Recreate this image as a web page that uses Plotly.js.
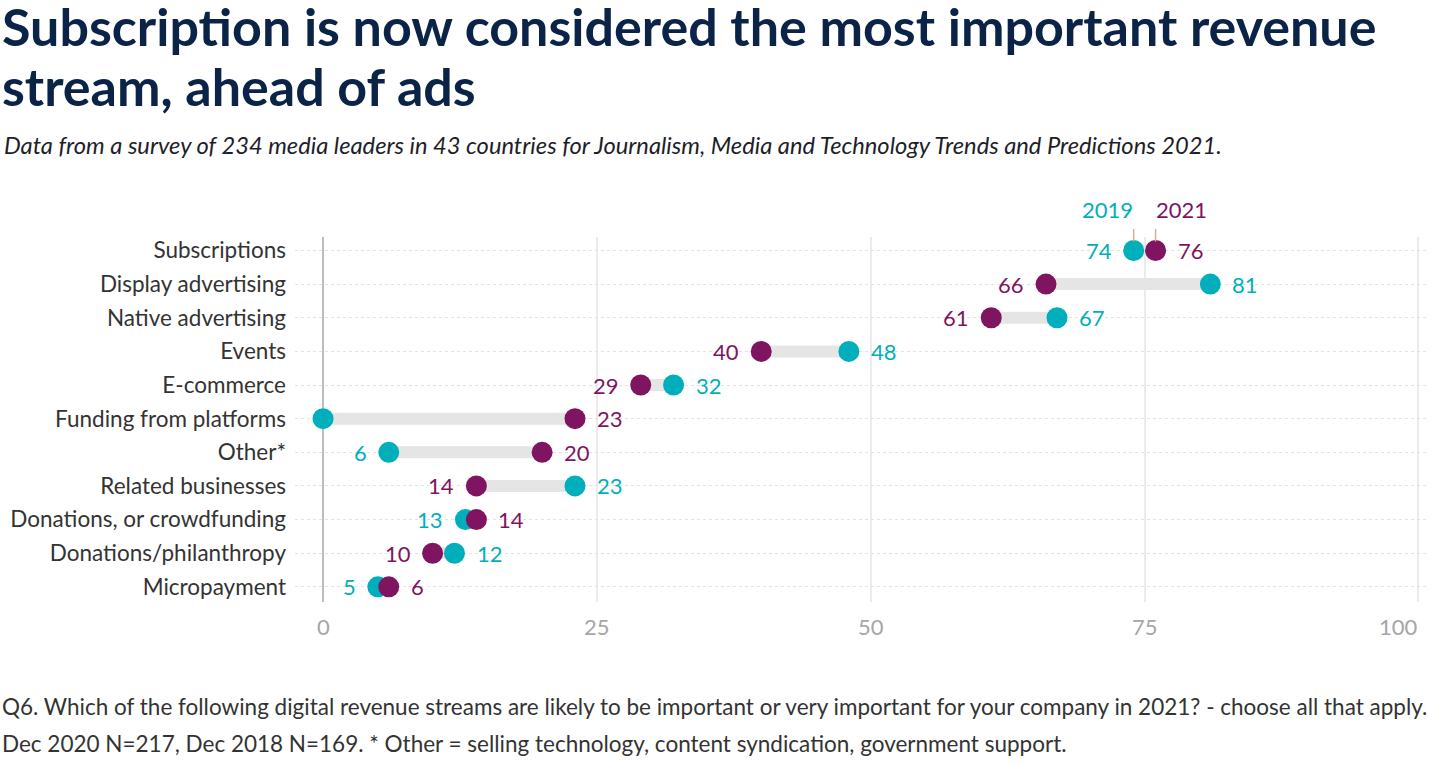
<!DOCTYPE html>
<html>
<head>
<meta charset="utf-8">
<script src="https://cdn.plot.ly/plotly-3.0.1.min.js"></script>
<style>
html,body{margin:0;padding:0;background:#fff;}
#chart{width:1446px;height:764px;}
</style>
</head>
<body>
<div id="chart"></div>
<script>
// ---- data ----
const categories = ["Subscriptions","Display advertising","Native advertising","Events","E-commerce","Funding from platforms","Other*","Related businesses","Donations, or crowdfunding","Donations/philanthropy","Micropayment"];
const values2019 = [74, 81, 67, 48, 32, 0, 6, 23, 13, 12, 5];
const values2021 = [76, 66, 61, 40, 29, 23, 20, 14, 14, 10, 6];
const xTicks = [0, 25, 50, 75, 100];
const seriesNames = ["2019", "2021"];

// ---- style ----
const TEAL = "#00AFBB";
const PURPLE = "#7F1561";
const FONT = "Lato, 'Open Sans', sans-serif";

// pixel helpers for layout positioning
const PL = 295, PR = 1429, PT = 237, PB = 602;
const W = 1446, H = 764;
const pxX = p => (p - PL) / (PR - PL);
const pxY = p => (PB - p) / (PB - PT);
const XMIN = -2.56, XMAX = 100.96;

const traces = [];
// connecting bars
categories.forEach((c, i) => {
  traces.push({
    type: "scatter", mode: "lines",
    x: [values2019[i], values2021[i]], y: [c, c],
    line: {color: "#e5e5e5", width: 12},
    hoverinfo: "skip", showlegend: false
  });
});
traces.push({
  type: "scatter", mode: "markers", name: seriesNames[0],
  x: values2019, y: categories,
  marker: {color: TEAL, size: 21}, showlegend: false
});
traces.push({
  type: "scatter", mode: "markers", name: seriesNames[1],
  x: values2021, y: categories,
  marker: {color: PURPLE, size: 21}, showlegend: false
});

const annotations = [];
categories.forEach((c, i) => {
  const a = values2019[i], b = values2021[i];
  const aLeft = a <= b;
  if (a !== 0) {
    annotations.push({x: a, y: c, xref: "x", yref: "y", text: String(a), showarrow: false,
      xanchor: aLeft ? "right" : "left", xshift: aLeft ? -20 : 20,
      font: {family: FONT, size: 22, color: TEAL}});
  }
  annotations.push({x: b, y: c, xref: "x", yref: "y", text: String(b), showarrow: false,
    xanchor: aLeft ? "left" : "right", xshift: aLeft ? 20 : -20,
    font: {family: FONT, size: 22, color: PURPLE}});
});
// series labels above first row, with short tick lines
[[values2019[0], seriesNames[0], TEAL, "right"], [values2021[0], seriesNames[1], PURPLE, "left"]].forEach(([v, name, col, anc]) => {
  annotations.push({x: v, y: categories[0], xref: "x", yref: "y", text: "",
    showarrow: true, arrowhead: 0, arrowwidth: 1.5, arrowcolor: "#d4b196", ax: 0, ay: -23, standoff: 9});
  annotations.push({x: v, y: categories[0], xref: "x", yref: "y", text: name, showarrow: false,
    xanchor: anc, yanchor: "middle", yshift: 41, xshift: anc === "right" ? 1 : -2,
    font: {family: FONT, size: 22, color: col}});
});
// x tick labels
xTicks.forEach((t, i) => {
  const last = i === xTicks.length - 1;
  annotations.push({x: t, xref: "x", yref: "paper", y: pxY(626), text: String(t), showarrow: false,
    xanchor: last ? "right" : "center", yanchor: "middle", xshift: last ? 2 : 0,
    font: {family: FONT, size: 22, color: "#a6a6a6"}});
});
// title
annotations.push({xref: "paper", yref: "paper", x: pxX(0), y: pxY(26), xanchor: "left", yanchor: "middle",
  showarrow: false, text: "Subscription is now considered the most important revenue",
  font: {family: FONT, size: 52, color: "#0a2347", weight: 700}});
annotations.push({xref: "paper", yref: "paper", x: pxX(0), y: pxY(86), xanchor: "left", yanchor: "middle",
  showarrow: false, text: "stream, ahead of ads",
  font: {family: FONT, size: 52, color: "#0a2347", weight: 700}});
// subtitle
annotations.push({xref: "paper", yref: "paper", x: pxX(2), y: pxY(145), xanchor: "left", yanchor: "middle",
  showarrow: false, text: "<i>Data from a survey of 234 media leaders in 43 countries for Journalism, Media and Technology Trends and Predictions 2021.</i>",
  font: {family: FONT, size: 23.7, color: "#1e1e2a"}});
// footer
annotations.push({xref: "paper", yref: "paper", x: pxX(0), y: pxY(706), xanchor: "left", yanchor: "middle",
  showarrow: false, text: "Q6. Which of the following digital revenue streams are likely to be important or very important for your company in 2021? - choose all that apply.",
  font: {family: FONT, size: 22.5, color: "#333333"}});
annotations.push({xref: "paper", yref: "paper", x: pxX(0), y: pxY(743), xanchor: "left", yanchor: "middle",
  showarrow: false, text: "Dec 2020 N=217, Dec 2018 N=169. * Other = selling technology, content syndication, government support.",
  font: {family: FONT, size: 22.5, color: "#333333"}});

const layout = {
  width: W, height: H,
  paper_bgcolor: "#fff", plot_bgcolor: "#fff",
  margin: {l: PL, r: W - PR, t: PT, b: H - PB, pad: 0},
  xaxis: {
    range: [XMIN, XMAX], tickvals: xTicks, showticklabels: false,
    showgrid: true, gridcolor: "#ebebeb", gridwidth: 1.5,
    zeroline: true, zerolinecolor: "#bdbdbd", zerolinewidth: 2,
    showline: false, ticks: "", fixedrange: true
  },
  yaxis: {
    type: "category", categoryorder: "array", categoryarray: categories,
    range: [10.45, -0.4],
    showgrid: true, gridcolor: "#e2e2e2", gridwidth: 1, griddash: "dot",
    zeroline: false, showline: false, ticks: "",
    tickfont: {family: FONT, size: 22.5, color: "#333333"},
    ticklabelstandoff: 8, fixedrange: true
  },
  annotations: annotations,
  showlegend: false,
  hovermode: "closest"
};

Plotly.newPlot("chart", traces, layout, {displayModeBar: false, responsive: false});
</script>
</body>
</html>
